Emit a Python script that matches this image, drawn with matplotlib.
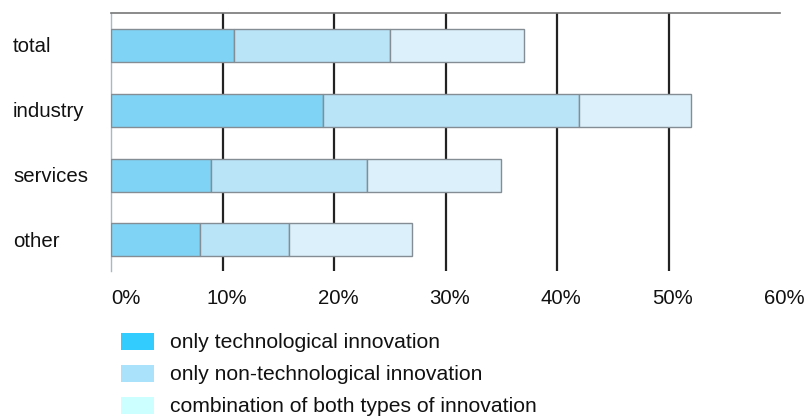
import numpy as np
import matplotlib.pyplot as plt
from matplotlib.patches import Rectangle

plt.rcParams['font.family'] = ['Liberation Sans', 'DejaVu Sans']

# Data (share of enterprises, %)
categories = ['total', 'industry', 'services', 'other']
only_tech = [11, 19, 9, 8]
only_nontech = [14, 23, 14, 8]
both_types = [12, 10, 12, 11]
series_labels = ['only technological innovation',
                 'only non-technological innovation',
                 'combination of both types of innovation']
xticks = [0, 10, 20, 30, 40, 50, 60]

bar_colors = ['#7fd3f5', '#b9e4f8', '#dbf0fb']
legend_colors = ['#33ccff', '#aae1fb', '#ccffff']

W, H = 806, 416
FS = 14.7
fig = plt.figure(figsize=(W / 100, H / 100), dpi=100)
ax = fig.add_axes([111 / W, 1 - 271 / H, (780 - 111) / W, (271 - 13) / H])

y = np.arange(len(categories))
left = np.zeros(len(categories))
for vals, col in zip([only_tech, only_nontech, both_types], bar_colors):
    ax.barh(y, vals, left=left, height=0.51, color=col,
            edgecolor='#858d94', linewidth=1, zorder=3)
    left += np.array(vals)

ax.set_xlim(0, 60)
ax.set_ylim(3.48, -0.5)

# vertical grid lines
for t in xticks[1:-1]:
    ax.axvline(t, color='#222222', lw=1.6, zorder=1)

for s in ['right', 'bottom']:
    ax.spines[s].set_visible(False)
ax.spines['top'].set_color('#777777')
ax.spines['top'].set_linewidth(1.2)
ax.spines['left'].set_color('#a8b8c8')
ax.spines['left'].set_linewidth(1)

ax.set_yticks([])
ax.set_xticks([])
for i, c in enumerate(categories):
    fig.text(13 / W, 1 - (47 + i * 64.7) / H, c, fontsize=FS,
             ha='left', va='center', color='#111111')

for t in xticks:
    xpix = 111 + t * (780 - 111) / 60
    if t == 0:
        fig.text(111 / W, 1 - 298 / H, f'{t}%', fontsize=FS, ha='left',
                 va='center', color='#111111')
    else:
        fig.text((xpix + 4) / W, 1 - 298 / H, f'{t}%', fontsize=FS,
                 ha='center', va='center', color='#111111')

# legend
for i, (lab, col) in enumerate(zip(series_labels, legend_colors)):
    ytop = 333 + i * 32
    fig.add_artist(Rectangle((121 / W, 1 - (ytop + 17) / H), 33 / W, 17 / H,
                             transform=fig.transFigure, facecolor=col,
                             edgecolor='none'))
    fig.text(170 / W, 1 - (ytop + 9) / H, lab, fontsize=15.2, ha='left',
             va='center', color='#111111')

plt.savefig('out.png', dpi=100)
